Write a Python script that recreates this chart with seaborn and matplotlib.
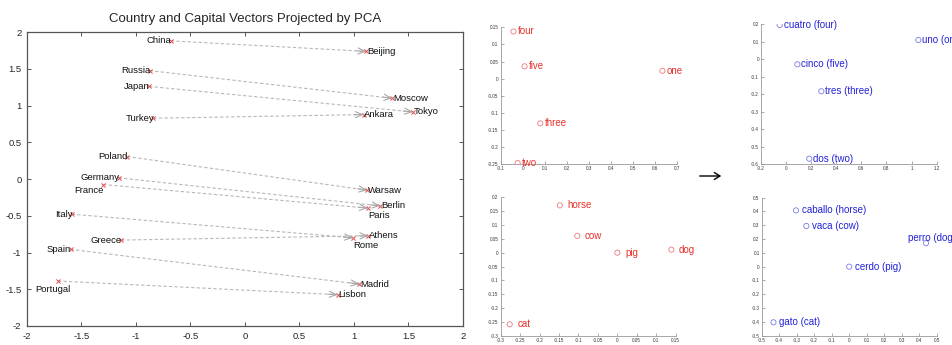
import seaborn as sns
import matplotlib.pyplot as plt
import pandas as pd
import numpy as np


# Left panel: country -> capital vectors
countries = ["China", "Russia", "Japan", "Turkey", "Poland", "Germany", "France",
             "Italy", "Greece", "Spain", "Portugal"]
country_x = [-0.68, -0.875, -0.88, -0.84, -1.08, -1.16, -1.30, -1.59, -1.135, -1.60, -1.716]
country_y = [1.88, 1.475, 1.26, 0.827, 0.306, 0.016, -0.075, -0.478, -0.831, -0.958, -1.388]
capitals = ["Beijing", "Moscow", "Tokyo", "Ankara", "Warsaw", "Berlin", "Paris",
            "Rome", "Athens", "Madrid", "Lisbon"]
capital_x = [1.113, 1.352, 1.541, 1.089, 1.122, 1.242, 1.128, 0.991, 1.131, 1.049, 0.850]
capital_y = [1.737, 1.099, 0.913, 0.877, -0.152, -0.365, -0.396, -0.80, -0.772, -1.429, -1.574]

# English numbers / animals
num_words = ["four", "five", "one", "three", "two"]
num_x = [-0.042, 0.008, 0.635, 0.080, -0.023]
num_y = [0.138, 0.036, 0.023, -0.131, -0.247]

animal_words = ["horse", "cow", "pig", "dog", "cat"]
animal_x = [-0.148, -0.103, 0.0, 0.139, -0.277]
animal_y = [0.171, 0.061, 0.0, 0.011, -0.259]

# Spanish numbers / animals
es_num_words = ["cuatro (four)", "uno (one)", "cinco (five)", "tres (three)", "dos (two)"]
es_num_x = [-0.051, 1.054, 0.090, 0.281, 0.185]
es_num_y = [0.196, 0.110, -0.029, -0.183, -0.568]

es_animal_words = ["caballo (horse)", "vaca (cow)", "perro (dog)", "cerdo (pig)", "gato (cat)"]
es_animal_x = [-0.304, -0.245, 0.439, 0.0, -0.433]
es_animal_y = [0.408, 0.295, 0.171, 0.0, -0.403]

sns.set_style("white")
plt.rcParams['font.family'] = ['Liberation Sans', 'DejaVu Sans']
plt.rcParams['axes.unicode_minus'] = False

fig = plt.figure(figsize=(9.53, 3.45), dpi=100)

# ---------------- left panel ----------------
ax = fig.add_axes([0.0283, 0.0551, 0.4575, 0.852])
pairs = pd.DataFrame({
    "x": country_x + capital_x,
    "y": country_y + capital_y,
    "pair": list(range(len(countries))) * 2,
})
sns.lineplot(data=pairs, x="x", y="y", units="pair", estimator=None, sort=False,
             color="#b8b8b8", lw=0.8, linestyle=(0, (3, 2)), ax=ax)
pts = pd.DataFrame({"x": country_x + capital_x, "y": country_y + capital_y})
sns.scatterplot(data=pts, x="x", y="y", marker="x", s=9, color="#e05050",
                linewidth=0.7, ax=ax, zorder=3)

# arrow heads at capitals
sx, sy = 436 / 4.0, 294 / 4.0
for cx, cy, kx, ky in zip(country_x, country_y, capital_x, capital_y):
    dx, dy = (kx - cx) * sx, (ky - cy) * sy
    n = np.hypot(dx, dy)
    ax.annotate("", xy=(kx, ky), xytext=(-dx / n * 7, -dy / n * 7),
                textcoords="offset points",
                arrowprops=dict(arrowstyle="->,head_length=0.5,head_width=0.22",
                                color="#a8a8a8", lw=0.8, shrinkA=0, shrinkB=0))

special = {
    "France": ((0, -4.5), "right"),
    "Paris": ((0.5, -5.5), "left"),
    "Rome": ((0.5, -5.5), "left"),
    "Portugal": ((9, -6), "right"),
}
for name, x, y in zip(countries, country_x, country_y):
    off, ha = special.get(name, ((0.5, 0), "right"))
    ax.annotate(name, (x, y), xytext=off, textcoords="offset points",
                ha=ha, va="center", fontsize=6.8, color="#111111")
for name, x, y in zip(capitals, capital_x, capital_y):
    off, ha = special.get(name, ((0.5, 0), "left"))
    ax.annotate(name, (x, y), xytext=off, textcoords="offset points",
                ha=ha, va="center", fontsize=6.8, color="#111111")

ax.set_xlim(-2, 2)
ax.set_ylim(-2, 2)
big_ticks = [-2, -1.5, -1, -0.5, 0, 0.5, 1, 1.5, 2]
ax.set_xticks(big_ticks)
ax.set_yticks(big_ticks)
ax.set_xticklabels(["%g" % t for t in big_ticks])
ax.set_yticklabels(["%g" % t for t in big_ticks])
ax.tick_params(direction="in", length=3, width=0.7, color="#555555",
               labelsize=6.8, pad=4, top=True, right=True, bottom=True, left=True)
for sp in ax.spines.values():
    sp.set_visible(True)
    sp.set_color("#555555")
    sp.set_linewidth(0.9)
ax.set_xlabel("")
ax.set_ylabel("")
ax.set_title("Country and Capital Vectors Projected by PCA", fontsize=9.5, pad=7)


# ---------------- small panels ----------------
def small_panel(rect, xs, ys, words, xlim, ylim, xticks, yticks, mcolor, tcolor,
                gap, offsets=None):
    a = fig.add_axes(rect)
    df = pd.DataFrame({"x": xs, "y": ys, "w": words})
    sns.scatterplot(data=df, x="x", y="y", marker="o", s=14, facecolor="none",
                    edgecolor=mcolor, linewidth=0.6, ax=a)
    offsets = offsets or {}
    for w, x, y in zip(words, xs, ys):
        off = offsets.get(w, (gap, 0))
        a.annotate(w, (x, y), xytext=off, textcoords="offset points",
                   ha="left", va="center", fontsize=7, color=tcolor,
                   annotation_clip=False)
    a.set_xlim(*xlim)
    a.set_ylim(*ylim)
    a.set_xticks(xticks)
    a.set_yticks(yticks)
    a.set_xticklabels(["%g" % t for t in xticks])
    a.set_yticklabels(["%g" % t for t in yticks])
    a.tick_params(direction="in", length=2, width=0.5, color="#888888",
                  labelsize=3.3, pad=1.5, labelcolor="#333333",
                  bottom=True, left=True)
    for s in ["top", "right"]:
        a.spines[s].set_visible(False)
    for s in ["left", "bottom"]:
        a.spines[s].set_color("#999999")
        a.spines[s].set_linewidth(0.6)
    a.set_xlabel("")
    a.set_ylabel("")
    return a


red_m, red_t = "#ec7a7a", "#e8302a"
blue_m, blue_t = "#7a7ae6", "#2222d8"

small_panel([0.5254, 0.5246, 0.1847, 0.396], num_x, num_y, num_words,
            (-0.1, 0.7), (-0.25, 0.15),
            [-0.1, 0, 0.1, 0.2, 0.3, 0.4, 0.5, 0.6, 0.7],
            [-0.25, -0.2, -0.15, -0.1, -0.05, 0, 0.05, 0.1, 0.15],
            red_m, red_t, 3)
small_panel([0.5254, 0.027, 0.1836, 0.401], animal_x, animal_y, animal_words,
            (-0.3, 0.15), (-0.3, 0.2),
            [-0.3, -0.25, -0.2, -0.15, -0.1, -0.05, 0, 0.05, 0.1, 0.15],
            [-0.3, -0.25, -0.2, -0.15, -0.1, -0.05, 0, 0.05, 0.1, 0.15, 0.2],
            red_m, red_t, 5.5)
small_panel([0.7985, 0.5238, 0.1844, 0.406], es_num_x, es_num_y, es_num_words,
            (-0.2, 1.2), (-0.6, 0.2),
            [-0.2, 0, 0.2, 0.4, 0.6, 0.8, 1, 1.2],
            [-0.6, -0.5, -0.4, -0.3, -0.2, -0.1, 0, 0.1, 0.2],
            blue_m, blue_t, 2.8)
small_panel([0.7993, 0.027, 0.1836, 0.40], es_animal_x, es_animal_y, es_animal_words,
            (-0.5, 0.5), (-0.5, 0.5),
            [-0.5, -0.4, -0.3, -0.2, -0.1, 0, 0.1, 0.2, 0.3, 0.4, 0.5],
            [-0.5, -0.4, -0.3, -0.2, -0.1, 0, 0.1, 0.2, 0.3, 0.4, 0.5],
            blue_m, blue_t, 4, offsets={"perro (dog)": (-12.7, 3.4)})

# arrow between English and Spanish panels
fig.add_artist(plt.matplotlib.patches.FancyArrowPatch(
    (697 / 953, 1 - 176 / 345), (724 / 953, 1 - 176 / 345),
    transform=fig.transFigure, arrowstyle="->,head_length=4,head_width=2.5",
    color="black", lw=1.0))

plt.savefig("out.png", dpi=100)
